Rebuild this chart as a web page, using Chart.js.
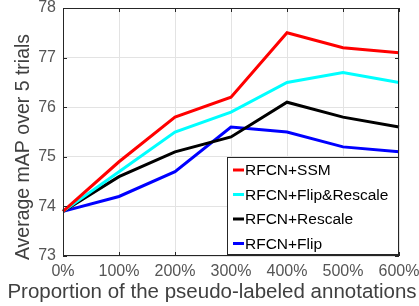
<!DOCTYPE html>
<html>
<head>
<meta charset="utf-8">
<script src="https://cdn.jsdelivr.net/npm/chart.js@4"></script>
<style>
  html, body { margin: 0; padding: 0; background: #fff; }
  #wrap { width: 419px; height: 306px; position: relative; }
</style>
</head>
<body>
<div id="wrap"><canvas id="chart"></canvas></div>
<script>
// data
const proportions = ["0%", "100%", "200%", "300%", "400%", "500%", "600%"];
const ssm = [73.9, 74.9, 75.8, 76.2, 77.5, 77.2, 77.1];
const flipRescale = [73.9, 74.7, 75.5, 75.9, 76.5, 76.7, 76.5];
const rescale = [73.9, 74.6, 75.1, 75.4, 76.1, 75.8, 75.6];
const flip = [73.9, 74.2, 74.7, 75.6, 75.5, 75.2, 75.1];
const seriesNames = ["RFCN+SSM", "RFCN+Flip&Rescale", "RFCN+Rescale", "RFCN+Flip"];
const seriesColors = ["#ff0000", "#00ffff", "#000000", "#0000ff"];
const xTitle = "Proportion of the pseudo-labeled annotations";
const yTitle = "Average mAP over 5 trials";
const yMin = 73, yMax = 78;

const FONT = "'Liberation Sans', Arial, sans-serif";

// ─── box, inward ticks, axis titles and inset legend (matlab look) ───
const boxPlugin = {
  id: "box",
  afterDatasetsDraw(chart) {
    const { ctx, chartArea: a, scales } = chart;
    ctx.save();
    ctx.strokeStyle = "#262626";
    ctx.lineWidth = 1;
    ctx.strokeRect(a.left + 0.5, a.top + 0.5, a.right - a.left - 1, a.bottom - a.top - 1);
    ctx.beginPath();
    scales.x.ticks.forEach((t, i) => {
      const x = Math.round(scales.x.getPixelForTick(i)) + 0.5;
      ctx.moveTo(x, a.bottom); ctx.lineTo(x, a.bottom - 4);
      ctx.moveTo(x, a.top); ctx.lineTo(x, a.top + 4);
    });
    scales.y.ticks.forEach((t, i) => {
      const y = Math.round(scales.y.getPixelForTick(i)) + 0.5;
      ctx.moveTo(a.left, y); ctx.lineTo(a.left + 4, y);
      ctx.moveTo(a.right, y); ctx.lineTo(a.right - 4, y);
    });
    ctx.stroke();

    // axis titles (scale titles get squeezed to the axis length, so draw here)
    ctx.fillStyle = "#404040";
    ctx.textAlign = "center";
    ctx.textBaseline = "middle";
    ctx.font = "20.5px " + FONT;
    ctx.fillText(xTitle, 212, 292);
    ctx.save();
    ctx.translate(24, 147);
    ctx.rotate(-Math.PI / 2);
    ctx.font = "19.5px " + FONT;
    ctx.fillText(yTitle, 0, 0);
    ctx.restore();

    // legend box in lower right corner
    const w = 171, h = 97;
    const lx = a.right - w - 1, ly = a.bottom - h - 2;
    ctx.textAlign = "left";
    ctx.fillStyle = "#fff";
    ctx.fillRect(lx, ly, w, h);
    ctx.strokeStyle = "#262626";
    ctx.strokeRect(lx + 0.5, ly + 0.5, w, h);
    ctx.font = "15.5px " + FONT;
    chart.data.datasets.forEach((ds, i) => {
      const y = ly + 13 + i * 24.5;
      ctx.strokeStyle = ds.borderColor;
      ctx.lineWidth = 3;
      ctx.beginPath();
      ctx.moveTo(lx + 6, y); ctx.lineTo(lx + 17, y);
      ctx.stroke();
      ctx.fillStyle = "#000";
      ctx.fillText(ds.label, lx + 18, y + 1);
    });
    ctx.restore();
  }
};

const datasets = [ssm, flipRescale, rescale, flip].map((vals, i) => ({
  label: seriesNames[i],
  data: vals,
  borderColor: seriesColors[i],
  backgroundColor: seriesColors[i],
  borderWidth: 3,
  pointRadius: 0,
  tension: 0,
  fill: false
}));

new Chart(document.getElementById("chart").getContext("2d"), {
  type: "line",
  data: { labels: proportions, datasets },
  options: {
    responsive: true,
    maintainAspectRatio: false,
    animation: false,
    layout: { padding: { top: 8, right: 20, left: 0, bottom: 0 } },
    plugins: { legend: { display: false }, tooltip: { enabled: false } },
    scales: {
      x: {
        offset: false,
        grid: { color: "#e3e3e3", drawTicks: false },
        border: { display: false },
        ticks: { color: "#555", font: { family: FONT, size: 16 }, padding: 6, maxRotation: 0 },
        afterFit: (s) => { s.height = 50; s.paddingLeft = 0; s.paddingRight = 0; }
      },
      y: {
        min: yMin, max: yMax,
        grid: { color: "#e3e3e3", drawTicks: false },
        border: { display: false },
        ticks: { stepSize: 1, color: "#555", font: { family: FONT, size: 16 }, padding: 7 },
        afterFit: (s) => { s.width = 63; s.paddingTop = 0; s.paddingBottom = 0; }
      }
    }
  },
  plugins: [boxPlugin]
});
</script>
</body>
</html>
